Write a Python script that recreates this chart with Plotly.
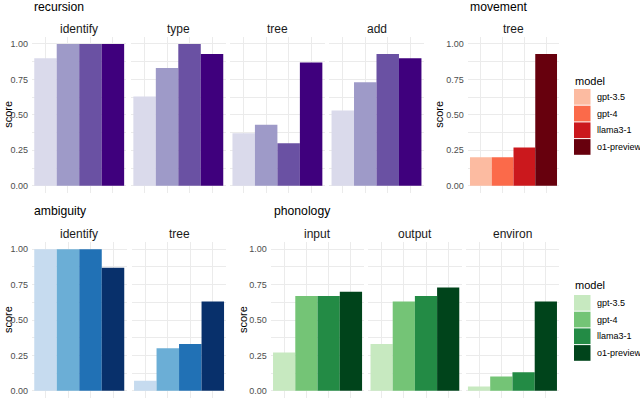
import plotly.graph_objects as go

W, H = 640, 398

models = ["gpt-3.5", "gpt-4", "llama3-1", "o1-preview"]

# scores
recursion_identify = [0.90, 1.00, 1.00, 1.00]
recursion_type = [0.63, 0.83, 1.00, 0.93]
recursion_tree = [0.37, 0.43, 0.30, 0.87]
recursion_add = [0.53, 0.73, 0.93, 0.90]
movement_tree = [0.20, 0.20, 0.27, 0.93]
ambiguity_identify = [1.00, 1.00, 1.00, 0.87]
ambiguity_tree = [0.07, 0.30, 0.33, 0.63]
phonology_input = [0.27, 0.67, 0.67, 0.70]
phonology_output = [0.33, 0.63, 0.67, 0.73]
phonology_environ = [0.03, 0.10, 0.13, 0.63]

y_ticks = [0, 0.25, 0.5, 0.75, 1.0]
y_ticktext = ["0.00", "0.25", "0.50", "0.75", "1.00"]
y_minor = [0.125, 0.375, 0.625, 0.875]

purples = ["#DADAEB", "#9E9AC8", "#6A51A3", "#3F007D"]
reds = ["#FCBBA1", "#FB6A4A", "#CB181D", "#67000D"]
blues = ["#C6DBEF", "#6BAED6", "#2171B5", "#08306B"]
greens = ["#C7E9C0", "#74C476", "#238B45", "#00441B"]

FONT = "Liberation Sans, Arial, Helvetica, sans-serif"
GRID = "#EBEBEB"


def px_x(p):
    return p / W


def px_y(p):
    return 1 - p / H


# (strip label, values, palette, x0 px, x1 px, row, show y labels)
panels = [
    ("identify", recursion_identify, purples, 32.0, 126.4, "top", True),
    ("type", recursion_type, purples, 131.1, 225.5, "top", False),
    ("tree", recursion_tree, purples, 230.2, 324.6, "top", False),
    ("add", recursion_add, purples, 329.3, 423.7, "top", False),
    ("tree", movement_tree, reds, 467.8, 559.2, "top", True),
    ("identify", ambiguity_identify, blues, 32.0, 126.5, "bot", True),
    ("tree", ambiguity_tree, blues, 131.8, 226.3, "bot", False),
    ("input", phonology_input, greens, 270.8, 364.3, "bot", True),
    ("output", phonology_output, greens, 368.3, 461.5, "bot", False),
    ("environ", phonology_environ, greens, 465.7, 559.2, "bot", False),
]

row_y = {"top": (36.9, 192.8), "bot": (242.2, 397.8)}
strip_y = {"top": 28.5, "bot": 233.5}

fig = go.Figure()
layout = dict(
    width=W, height=H,
    margin=dict(l=0, r=0, t=0, b=0),
    paper_bgcolor="white", plot_bgcolor="white",
    showlegend=False,
    font=dict(family=FONT),
)
annotations = []
shapes = []

for i, (label, vals, pal, x0, x1, row, showlab) in enumerate(panels, start=1):
    xa = "x" if i == 1 else f"x{i}"
    ya = "y" if i == 1 else f"y{i}"
    fig.add_trace(go.Bar(
        x=models, y=vals, width=1.0,
        marker=dict(color=pal, line=dict(width=0)),
        xaxis=xa, yaxis=ya, hoverinfo="x+y",
    ))
    y0, y1 = row_y[row]
    layout["xaxis" if i == 1 else f"xaxis{i}"] = dict(
        domain=[px_x(x0), px_x(x1)], anchor=ya, type="category",
        range=[-0.6, 3.6], showticklabels=False, ticks="",
        showgrid=True, gridcolor=GRID, gridwidth=1.1, zeroline=False,
        showline=False, fixedrange=True,
    )
    layout["yaxis" if i == 1 else f"yaxis{i}"] = dict(
        domain=[px_y(y1), px_y(y0)], anchor=xa,
        range=[-0.05, 1.05], tickvals=y_ticks, ticktext=y_ticktext,
        showticklabels=showlab, ticks="", ticklabelstandoff=3,
        tickfont=dict(size=9, color="#4D4D4D", family=FONT),
        showgrid=True, gridcolor=GRID, gridwidth=1.1, zeroline=False,
        minor=dict(tickvals=y_minor, showgrid=True, gridcolor=GRID, gridwidth=0.55),
        showline=False, fixedrange=True,
    )
    annotations.append(dict(
        text=label, x=px_x((x0 + x1) / 2), y=px_y(strip_y[row]),
        xref="paper", yref="paper", xanchor="center", yanchor="middle",
        showarrow=False, font=dict(size=12, color="#1A1A1A", family=FONT),
    ))

# group titles
for title, x, y in [("recursion", 32, 6.5), ("movement", 468, 6.5),
                    ("ambiguity", 32, 211), ("phonology", 272, 211)]:
    annotations.append(dict(
        text=title, x=px_x(x), y=px_y(y), xref="paper", yref="paper",
        xanchor="left", yanchor="middle", showarrow=False,
        font=dict(size=12.2, color="black", family=FONT),
    ))

# y axis titles
for x, y in [(8, 114.8), (439, 114.8), (8, 320), (243, 320)]:
    annotations.append(dict(
        text="score", x=px_x(x), y=px_y(y), xref="paper", yref="paper",
        xanchor="center", yanchor="middle", textangle=-90, showarrow=False,
        font=dict(size=11, color="black", family=FONT),
    ))

# legends
for pal, title_y, key_top in [(reds, 81, 89.0), (greens, 285, 295.0)]:
    annotations.append(dict(
        text="model", x=px_x(573), y=px_y(title_y), xref="paper", yref="paper",
        xanchor="left", yanchor="middle", showarrow=False,
        font=dict(size=11, color="black", family=FONT),
    ))
    for k, (name, col) in enumerate(zip(models, pal)):
        t = key_top + k * 16.7
        shapes.append(dict(
            type="rect", xref="paper", yref="paper",
            x0=px_x(574), x1=px_x(590.5), y0=px_y(t + 15.7), y1=px_y(t),
            fillcolor=col, line=dict(width=0),
        ))
        annotations.append(dict(
            text=name, x=px_x(595), y=px_y(t + 8), xref="paper", yref="paper",
            xanchor="left", yanchor="middle", showarrow=False,
            font=dict(size=9, color="black", family=FONT),
        ))

layout["annotations"] = annotations
layout["shapes"] = shapes
fig.update_layout(**layout)
fig.write_html(
    "out.html",
    config={"displayModeBar": False},
    post_script="document.body.style.margin='0';document.body.style.overflow='hidden';",
)
